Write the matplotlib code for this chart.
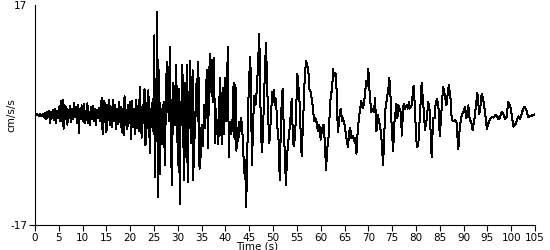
import numpy as np
import matplotlib
matplotlib.use("Agg")
import matplotlib.pyplot as plt

# early part of the record, sampled every 0.2 s from 0 to 22 s (cm/s/s)
early_dt = 0.2
early_acc = [
    0, 0, 0.1, 0, -0.1, 0.1, 0, -0.2, 0.1, 0.2,
    -0.4, 0.3, -0.6, 0.5, -0.3, 0.6, -1.2, 0.4, -0.5, 0.8,
    -0.8, 1.0, -1.3, 0.7, -0.5, 1.2, -1.0, 2.2, -0.9, 2.4,
    -2.1, 1.5, -0.6, 1.2, -1.5, 0.8, -0.4, 1.4, -1.1, 0.9,
    -0.7, 1.9, -0.3, 1.3, -1.2, 1.6, -2.8, 0.9, -0.6, 1.5,
    -1.0, 1.7, -1.3, 0.6, -0.8, 1.8, -1.2, 0.5, -1.5, 1.2,
    -0.6, 1.4, -0.9, 1.0, -1.6, 0.8, -0.4, 1.1, -1.0, 0.7,
    2.6, -3.0, 2.2, -1.1, 1.8, -2.7, 1.5, -0.8, 2.3, -1.6,
    1.2, -1.9, 2.4, -0.9, 1.6, -2.2, 1.0, -1.4, 2.0, -1.1,
    1.3, -2.6, 0.9, -3.1, 2.9, -1.5, 0.8, -2.2, 1.6, -1.2,
    2.0, -3.7, 2.2, -1.8, 1.0, -3.0, 2.4, -2.0, 1.4, -2.5,
    4.3,
]

# strong motion and coda, read as turning points (time s, cm/s/s)
late_t = [
    22.4, 22.6, 22.8, 23.0, 23.2, 23.4, 23.6, 23.8, 24.0, 24.1,
    24.3, 24.5, 24.7, 24.9, 25.05, 25.2, 25.35, 25.5, 25.7, 25.8,
    25.95, 26.1, 26.25, 26.45, 26.6, 26.8, 27.0, 27.15, 27.3, 27.5,
    27.7, 27.85, 28.0, 28.15, 28.3, 28.5, 28.75, 28.9, 29.05, 29.2,
    29.35, 29.5, 29.65, 29.85, 30.05, 30.2, 30.4, 30.6, 30.8, 30.95,
    31.15, 31.35, 31.55, 31.75, 31.9, 32.05, 32.25, 32.4, 32.6, 32.8,
    32.95, 33.1, 33.25, 33.45, 33.6, 33.8, 33.95, 34.15, 34.3, 34.55,
    34.75, 34.9, 35.1, 35.3, 35.5, 35.7, 35.9, 36.1, 36.3, 36.5,
    36.7, 36.9, 37.1, 37.3, 37.4, 37.6, 37.8, 38.0, 38.2, 38.5,
    38.7, 38.9, 39.1, 39.3, 39.5, 39.7, 39.9, 40.1, 40.3, 40.5,
    40.7, 40.9, 41.1, 41.3, 41.5, 41.7, 41.9, 42.1, 42.3, 42.5,
    42.7, 42.9, 43.1, 43.3, 43.5, 43.7, 43.9, 44.1, 44.35, 44.6,
    44.8, 45.0, 45.2, 45.35, 45.55, 45.8, 46.0, 46.3, 46.6, 46.9,
    47.1, 47.3, 47.5, 47.7, 47.9, 48.2, 48.5, 48.7, 48.9, 49.2,
    49.5, 49.8, 50.0, 50.2, 50.4, 50.6, 50.9, 51.1, 51.4, 51.6,
    51.8, 52.0, 52.2, 52.4, 52.7, 52.9, 53.1, 53.3, 53.6, 53.9,
    54.1, 54.3, 54.6, 54.9, 55.1, 55.3, 55.5, 55.8, 56.0, 56.3,
    56.6, 56.9, 57.2, 57.4, 57.6, 57.9, 58.1, 58.4, 58.6, 58.9,
    59.1, 59.4, 59.7, 60.0, 60.3, 60.6, 60.9, 61.1, 61.4, 61.7,
    61.9, 62.1, 62.4, 62.6, 62.8, 63.1, 63.3, 63.6, 63.9, 64.2,
    64.5, 64.7, 65.0, 65.3, 65.7, 66.0, 66.2, 66.4, 66.7, 67.0,
    67.2, 67.5, 67.8, 68.2, 68.5, 68.8, 69.0, 69.3, 69.5, 69.8,
    70.0, 70.3, 70.6, 70.9, 71.2, 71.4, 71.7, 72.0, 72.4, 72.7,
    73.1, 73.4, 73.6, 73.9, 74.2, 74.4, 74.6, 74.9, 75.2, 75.5,
    75.9, 76.1, 76.3, 76.6, 76.9, 77.0, 77.4, 77.7, 78.0, 78.3,
    78.5, 78.7, 79.1, 79.5, 79.8, 80.0, 80.2, 80.5, 80.9, 81.2,
    81.6, 81.9, 82.2, 82.6, 82.9, 83.1, 83.3, 83.6, 83.9, 84.1,
    84.4, 84.7, 85.0, 85.4, 85.7, 86.1, 86.4, 86.9, 87.3, 87.5,
    87.8, 88.2, 88.5, 88.9, 89.2, 89.6, 90.0, 90.3, 90.6, 91.0,
    91.3, 91.6, 91.9, 92.3, 92.6, 92.9, 93.3, 93.5, 93.8, 94.1,
    94.4, 94.9, 95.2, 95.6, 96.0, 96.3, 96.7, 97.0, 97.3, 97.6,
    98.0, 98.3, 98.7, 99.0, 99.4, 99.9, 100.2, 100.5, 101.0, 101.5,
    101.9, 102.3, 102.8, 103.2, 103.6, 104.0, 104.3, 105.0,
]
late_acc = [
    -3.5, 1.5, -1.2, 4.0, -4.7, 1.8, -2.0, 3.8, -1.5, -5.9,
    1.0, -1.8, 2.5, -3.0, 12.3, -9.6, 5.0, -4.0, 15.9, -12.7,
    -1.0, 6.9, -9.1, -0.5, -3.0, 1.5, -5.0, 2.0, -7.7, 4.0,
    8.2, 0.5, 7.5, -1.0, 10.5, -2.5, -10.9, 5.0, -3.0, 4.5,
    -1.5, 3.0, 7.8, -2.0, -7.8, 4.0, -13.7, 2.0, -1.5, 7.8,
    -4.0, -10.0, 5.0, -2.0, 7.7, -10.4, 3.5, -2.0, 8.3, -4.3,
    1.0, 6.9, -10.1, 0.5, -3.5, 3.0, 5.5, -1.0, 8.2, -8.3,
    -2.0, -6.5, -1.5, -4.8, 1.5, -2.0, 3.5, 6.9, -5.1, 2.0,
    9.5, 3.5, 8.5, 2.0, 8.0, 8.8, -4.3, 1.0, -2.0, -4.5,
    2.0, 5.8, -2.5, -4.5, 4.2, -2.9, 5.8, -1.0, 4.0, 10.5,
    -6.5, -1.0, -3.0, -0.8, -2.5, 5.0, -3.7, 4.6, -5.5, -2.0,
    -4.0, -1.0, -2.5, -0.5, -2.0, -4.5, -9.0, -7.0, -14.2, -5.0,
    2.0, 6.0, 8.9, 4.5, -7.8, -2.0, 3.0, 1.5, 4.0, 9.0,
    12.5, 3.0, -3.5, -5.7, -2.0, 5.0, 11.2, 6.0, 1.0, -4.4,
    -1.0, 3.5, 2.0, 3.8, 1.5, 2.5, -2.0, -3.0, -10.1, -2.5,
    2.0, 4.0, -1.0, -5.0, -10.9, -7.0, -4.5, -3.5, -1.0, 2.5,
    -2.0, -4.8, -3.5, 2.0, 6.4, 4.5, 3.0, -3.0, -6.3, -1.0,
    5.0, 8.4, 7.5, 7.0, 4.0, 3.5, 2.5, 1.0, -1.0, -0.5,
    -1.0, -2.5, -1.5, -3.8, -2.0, -1.5, -4.5, -8.5, -5.0, -3.0,
    0.5, 3.0, 4.0, 7.1, 6.0, 6.5, 4.5, -2.7, -0.5, 1.0,
    -1.0, -0.5, -1.5, -3.0, -5.0, -2.5, -2.0, -3.5, -3.2, -4.0,
    -3.5, -6.0, -2.0, 0.5, 2.2, 1.0, 1.5, 3.0, 5.2, 4.5,
    7.1, 3.0, 0.5, 1.0, 0.5, 2.6, -2.5, 0.0, -1.5, -3.0,
    -7.8, -2.0, 1.0, 2.5, 4.0, 5.7, 4.0, -1.9, -5.5, -1.0,
    1.7, -0.5, 1.5, 0.8, 0.3, -3.2, 1.7, 1.0, 1.5, 1.0,
    2.0, 1.0, 1.5, 4.5, 1.0, -3.0, -5.0, -4.5, 1.0, 5.0,
    1.0, -2.3, -1.0, 2.0, 0.5, -3.0, -6.5, -0.5, -0.5, 1.5,
    2.5, 1.5, -3.2, 1.0, 4.4, 3.0, 1.5, 4.7, 2.2, -0.5,
    -1.0, -0.8, -1.0, -5.3, -2.0, 0.0, 0.5, 1.2, -0.5, 1.5,
    -0.8, -1.0, -2.4, -0.5, 1.5, 3.4, 0.2, 1.0, 3.3, 2.5,
    1.0, -2.1, -1.3, -0.6, -0.3, -0.4, 0.0, -0.1, -0.6, -0.5,
    0.5, 0.3, -0.6, -0.4, 2.0, 1.1, -0.5, -1.8, -1.3, -0.2,
    -0.6, 0.5, 1.3, 0.7, -0.3, -0.2, -0.1, 0.1,
]

t = np.concatenate([np.arange(len(early_acc)) * early_dt, late_t])
acc = np.concatenate([early_acc, late_acc])

plt.rcParams["font.family"] = "DejaVu Sans"
plt.rcParams["font.size"] = 7.5

fig = plt.figure(figsize=(5.5, 2.5), dpi=100)
ax = fig.add_axes([35 / 550, 0.1, 500 / 550, 0.88])
ax.plot(t, acc, color="black", lw=0.72, antialiased=False)

ax.set_xlim(0, 105)
ax.set_ylim(-17, 17)
ax.set_xticks(np.arange(0, 106, 5))
ax.set_yticks([-17, 17])
ax.set_yticklabels(["-17", "17"])
ax.yaxis.get_major_ticks()[1].tick1line.set_visible(False)
ax.tick_params(length=4, width=0.8, pad=1.5, colors="black")
for side in ("top", "right"):
    ax.spines[side].set_visible(False)
for side in ("left", "bottom"):
    ax.spines[side].set_linewidth(0.8)

ax.set_xlabel("Time (s)", labelpad=0)
ax.xaxis.set_label_coords(0.444, -0.075)
ax.set_ylabel("cm/s/s")
ax.yaxis.set_label_coords(-0.038, 0.5)

fig.savefig("out.png", dpi=100)
